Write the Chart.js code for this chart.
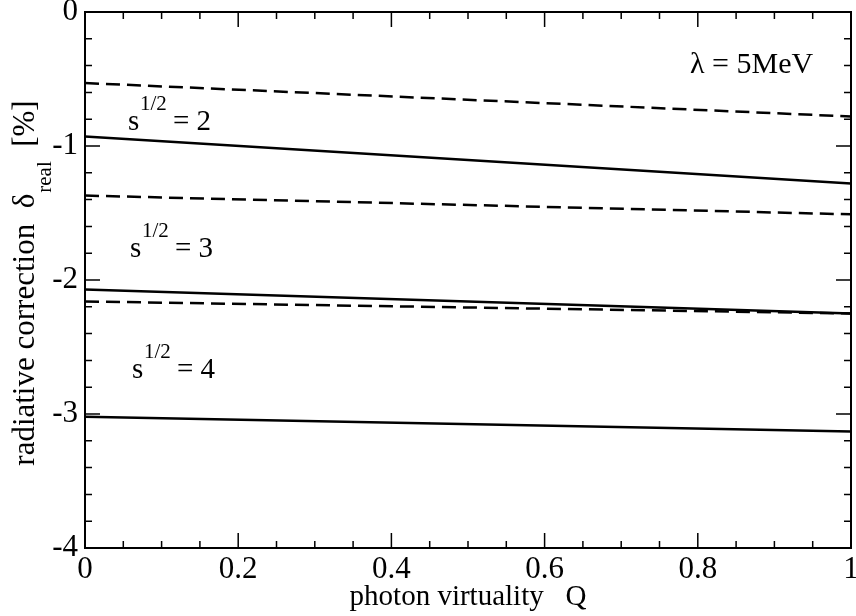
<!DOCTYPE html>
<html>
<head>
<meta charset="utf-8">
<script src="https://cdn.jsdelivr.net/npm/chart.js@4.4.1/dist/chart.umd.min.js"></script>
<style>
  html, body { margin: 0; padding: 0; background: #fff; }
  #wrap { width: 856px; height: 616px; }
</style>
</head>
<body>
<div id="wrap"><canvas id="deltaChart" width="856" height="616"></canvas></div>
<script>
// photon virtuality Q (x) and delta_real in % for each sqrt(s)
const qValues = [0, 1];
const dashedS2 = [-0.53, -0.78];
const solidS2 = [-0.93, -1.28];
const dashedS3 = [-1.37, -1.51];
const solidS3 = [-2.07, -2.25];
const dashedS4 = [-2.16, -2.25];
const solidS4 = [-3.02, -3.13];

const xMajor = [0, 0.2, 0.4, 0.6, 0.8, 1];
const yMajor = [0, -1, -2, -3, -4];

const serif = "'Liberation Serif', 'Times New Roman', serif";

function points(ys) {
    return qValues.map((q, i) => ({ x: q, y: ys[i] }));
}

function lineSet(ys, dashed) {
    return {
        data: points(ys),
        borderColor: "#000",
        borderWidth: 2.5,
        borderDash: dashed ? [14, 7] : [],
        pointRadius: 0,
        fill: false,
        showLine: true,
    };
}

// frame, inner ticks on all four sides, titles and annotations
const framePlugin = {
    id: "frame",
    afterDraw(chart) {
        const c = chart.ctx;
        const a = chart.chartArea;
        const xs = chart.scales.x;
        const ys = chart.scales.y;
        c.save();
        c.strokeStyle = "#000";
        c.lineWidth = 2;
        c.strokeRect(a.left, a.top, a.right - a.left, a.bottom - a.top);

        c.lineWidth = 1.5;
        for (let i = 0; i <= 20; i++) {
            const v = i * 0.05;
            const px = xs.getPixelForValue(v);
            const len = i % 4 === 0 ? 15 : 7;
            c.beginPath();
            c.moveTo(px, a.bottom); c.lineTo(px, a.bottom - len);
            c.moveTo(px, a.top); c.lineTo(px, a.top + len);
            c.stroke();
        }
        for (let i = 0; i <= 20; i++) {
            const v = -i * 0.2;
            const py = ys.getPixelForValue(v);
            const len = i % 5 === 0 ? 15 : 7;
            c.beginPath();
            c.moveTo(a.left, py); c.lineTo(a.left + len, py);
            c.moveTo(a.right, py); c.lineTo(a.right - len, py);
            c.stroke();
        }

        c.fillStyle = "#000";
        c.textBaseline = "alphabetic";

        // x title
        c.font = "29px " + serif;
        c.textAlign = "center";
        c.fillText("photon virtuality   Q", (a.left + a.right) / 2, 605);

        // y title with subscript
        const main1 = "radiative correction  \u03b4";
        const sub = "real";
        const main2 = "  [%]";
        c.font = "31px " + serif;
        const w1 = c.measureText(main1).width;
        const w3 = c.measureText(main2).width;
        c.font = "21px " + serif;
        const w2 = c.measureText(sub).width;
        const total = w1 + w2 + w3;
        c.translate(34, 283);
        c.rotate(-Math.PI / 2);
        c.textAlign = "left";
        let x0 = -total / 2;
        c.font = "31px " + serif;
        c.fillText(main1, x0, 0);
        c.font = "21px " + serif;
        c.fillText(sub, x0 + w1 + 1, 17);
        c.font = "31px " + serif;
        c.fillText(main2, x0 + w1 + w2, 0);
        c.restore();

        c.save();
        c.fillStyle = "#000";
        c.textAlign = "left";
        c.textBaseline = "alphabetic";
        c.font = "30px " + serif;
        c.fillText("\u03bb = 5MeV", 690, 73);

        const labels = [
            { x: 128, y: 130, n: "2" },
            { x: 130, y: 257, n: "3" },
            { x: 132, y: 378, n: "4" },
        ];
        labels.forEach(l => {
            c.font = "29px " + serif;
            c.fillText("s", l.x, l.y);
            c.font = "21px " + serif;
            c.fillText("1/2", l.x + 12, l.y - 20);
            c.font = "29px " + serif;
            c.fillText("= " + l.n, l.x + 45, l.y);
        });
        c.restore();
    },
};

const ctx = document.getElementById("deltaChart").getContext("2d");
new Chart(ctx, {
    type: "scatter",
    data: {
        datasets: [
            lineSet(dashedS2, true),
            lineSet(solidS2, false),
            lineSet(dashedS3, true),
            lineSet(solidS3, false),
            lineSet(dashedS4, true),
            lineSet(solidS4, false),
        ],
    },
    options: {
        responsive: false,
        animation: false,
        devicePixelRatio: 1,
        layout: { padding: { top: 12, right: 5, left: 0, bottom: 0 } },
        plugins: { legend: { display: false }, tooltip: { enabled: false } },
        scales: {
            x: {
                type: "linear",
                min: 0,
                max: 1,
                afterBuildTicks: s => { s.ticks = xMajor.map(v => ({ value: v })); },
                afterFit: s => { s.height = 68; s.paddingLeft = 0; s.paddingRight = 0; },
                grid: { display: false, drawTicks: false },
                border: { display: false },
                ticks: {
                    padding: 3,
                    color: "#000",
                    font: { family: serif, size: 31 },
                    callback: v => String(v),
                    maxRotation: 0,
                },
            },
            y: {
                type: "linear",
                min: -4,
                max: 0,
                afterBuildTicks: s => { s.ticks = yMajor.map(v => ({ value: v })); },
                afterFit: s => { s.width = 85; s.paddingTop = 0; s.paddingBottom = 0; },
                grid: { display: false, drawTicks: false },
                border: { display: false },
                ticks: {
                    padding: 7,
                    color: "#000",
                    font: { family: serif, size: 31 },
                    callback: v => String(v),
                },
            },
        },
    },
    plugins: [framePlugin],
});
</script>
</body>
</html>
